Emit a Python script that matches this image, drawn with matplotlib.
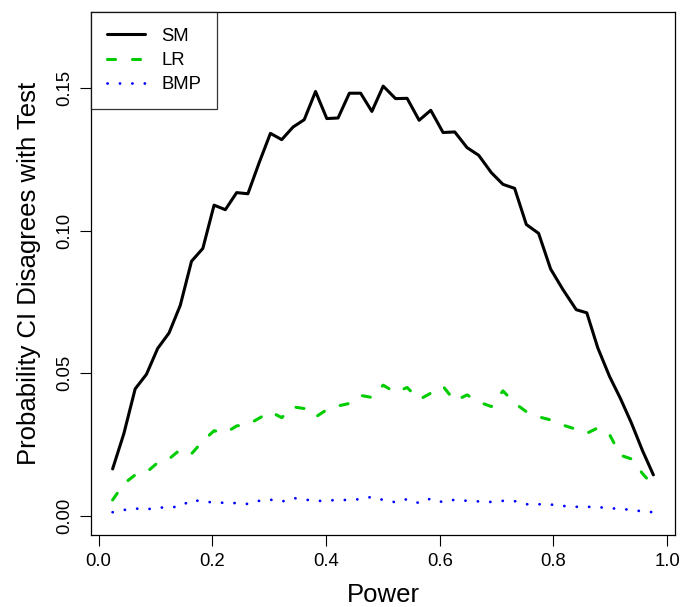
import numpy as np
import matplotlib
matplotlib.use("Agg")
import matplotlib.pyplot as plt

plt.rcParams['font.family'] = ['Liberation Sans', 'DejaVu Sans']
plt.rcParams['lines.scale_dashes'] = False

# achieved power for each simulation setting
power = [0.0246, 0.0444, 0.0643, 0.0841, 0.1039, 0.1238, 0.1436, 0.1634, 0.1833, 0.2031,
         0.2229, 0.2428, 0.2626, 0.2824, 0.3022, 0.3221, 0.3419, 0.3617, 0.3816, 0.4014,
         0.4212, 0.4411, 0.4609, 0.4807, 0.5006, 0.5223, 0.5427, 0.5638, 0.5843, 0.6059,
         0.6265, 0.6481, 0.6686, 0.6909, 0.7113, 0.7318, 0.7524, 0.7740, 0.7951, 0.8167,
         0.8402, 0.8588, 0.8781, 0.8987, 0.9180, 0.9373, 0.9566, 0.9759]

sm = [0.0164, 0.0288, 0.0445, 0.0496, 0.0587, 0.0641, 0.0738, 0.0893, 0.0938, 0.1090,
      0.1074, 0.1134, 0.1130, 0.1239, 0.1342, 0.1320, 0.1364, 0.1390, 0.1489, 0.1394,
      0.1396, 0.1483, 0.1483, 0.1419, 0.1508, 0.1464, 0.1465, 0.1388, 0.1423, 0.1345,
      0.1347, 0.1292, 0.1265, 0.1204, 0.1163, 0.1149, 0.1022, 0.0991, 0.0866, 0.0794,
      0.0723, 0.0712, 0.0589, 0.0489, 0.0411, 0.0325, 0.0229, 0.0143]

lr = [0.0055, 0.0112, 0.0143, 0.0152, 0.0186, 0.0199, 0.0232, 0.0217, 0.0262, 0.0298,
      0.0290, 0.0315, 0.0320, 0.0342, 0.0365, 0.0344, 0.0382, 0.0376, 0.0346, 0.0372,
      0.0385, 0.0394, 0.0422, 0.0415, 0.0458, 0.0432, 0.0450, 0.0407, 0.0430, 0.0454,
      0.0402, 0.0424, 0.0399, 0.0383, 0.0438, 0.0395, 0.0365, 0.0347, 0.0336, 0.0318,
      0.0303, 0.0289, 0.0308, 0.0285, 0.0212, 0.0199, 0.0148, 0.0105]

bmp = [0.0012, 0.0020, 0.0025, 0.0022, 0.0028, 0.0029, 0.0032, 0.0055, 0.0050, 0.0046,
       0.0045, 0.0044, 0.0041, 0.0052, 0.0056, 0.0049, 0.0062, 0.0057, 0.0051, 0.0053,
       0.0055, 0.0055, 0.0058, 0.0066, 0.0055, 0.0047, 0.0058, 0.0044, 0.0060, 0.0047,
       0.0056, 0.0052, 0.0050, 0.0048, 0.0052, 0.0051, 0.0040, 0.0040, 0.0039, 0.0034,
       0.0031, 0.0031, 0.0030, 0.0026, 0.0024, 0.0020, 0.0015, 0.0012]

xticks = [0.0, 0.2, 0.4, 0.6, 0.8, 1.0]
yticks = [0.00, 0.05, 0.10, 0.15]

fig = plt.figure(figsize=(6.83, 6.07), dpi=100)
ax = fig.add_axes([0.1332, 0.1186, 0.8551, 0.8616])

ax.plot(power, sm, color='black', lw=2.2, solid_capstyle='round', label='SM')
ax.plot(power, lr, color='#00CD00', lw=2.2, linestyle=(0, (5.8, 12.2)),
        dash_capstyle='round', label='LR')
ax.plot(power, bmp, color='#0000FF', lw=2.0, linestyle=(0, (0.1, 8.85)),
        dash_capstyle='round', label='BMP')

# R-style 4% padding
xr = power[-1] - power[0]
ax.set_xlim(power[0] - 0.04 * xr, power[-1] + 0.04 * xr)
ax.set_ylim(-0.04 * 0.17, 0.17 * 1.04)

ax.set_xticks(xticks)
ax.set_xticklabels([f"{t:.1f}" for t in xticks])
ax.set_yticks(yticks)
ax.set_yticklabels([f"{t:.2f}" for t in yticks], rotation=90, va='center')
ax.tick_params(direction='out', length=8, width=0.8, labelsize=13.3, pad=5)

for s in ax.spines.values():
    s.set_linewidth(0.9)

ax.set_xlabel("Power", fontsize=18.5, labelpad=9)
ax.set_ylabel("Probability CI Disagrees with Test", fontsize=18.5, labelpad=11)

leg = ax.legend(loc='upper left', bbox_to_anchor=(0, 1), borderaxespad=0,
                fancybox=False, edgecolor='black', fontsize=13.3,
                handlelength=2.1, handletextpad=0.85, borderpad=0.85,
                labelspacing=0.4)
leg.get_frame().set_linewidth(0.9)

fig.savefig("out.png", dpi=100)
